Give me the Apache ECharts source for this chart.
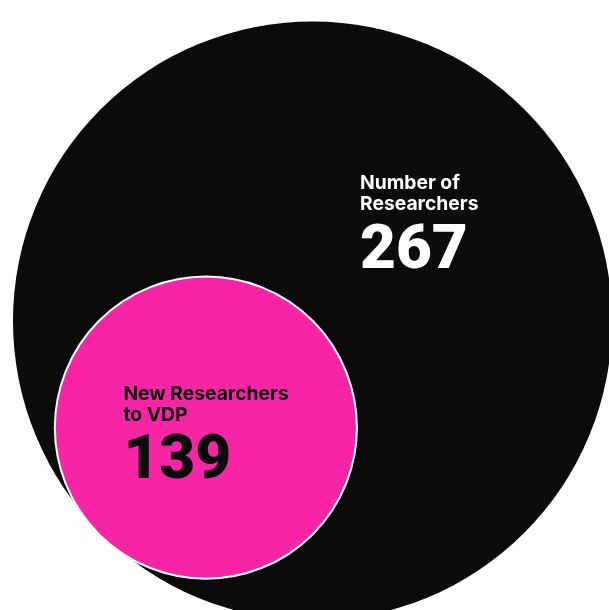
<!DOCTYPE html>
<html><head><meta charset="utf-8">
<script src="https://cdn.jsdelivr.net/npm/echarts@6/dist/echarts.min.js"></script>
<style>html,body{margin:0;padding:0;background:#fff}#c{width:609px;height:610px}</style>
</head><body><div id="c"></div>
<script>
// ---- data ----
const categories = ['Number of\nResearchers', 'New Researchers\nto VDP'];
const values = [267, 139];

// ---- styles / layout ----
const fillColors = ['#0b0b0b', '#f824a6'];
const textColors = ['#ffffff', '#0b0b0b'];
const W = 609, H = 610;
const bigCenter = [312.5, 321];
// radius scale (px) driven by the value
function radius(v) { return 1.16 * v - 10.2; }
const labelOffsets = [[47.5, -148], [-81.5, -43]];

const R0 = radius(values[0]);
const r1 = radius(values[1]);
const d = R0 - r1 + 2.3;
const centers = [
  bigCenter,
  [bigCenter[0] - d * Math.SQRT1_2, bigCenter[1] + d * Math.SQRT1_2]
];

const data = values.map((v, i) => {
  const size = 2 * radius(v);
  return {
    name: categories[i],
    value: [centers[i][0], centers[i][1], v],
    symbolSize: size,
    itemStyle: {
      color: fillColors[i],
      opacity: 1,
      borderColor: i === 0 ? 'transparent' : '#ffffff',
      borderWidth: i === 0 ? 0 : 2
    },
    label: {
      show: true,
      position: [size / 2 + labelOffsets[i][0], size / 2 + labelOffsets[i][1]],
      align: 'left',
      verticalAlign: 'top',
      formatter: function (p) {
        return p.name.split('\n').map(s => '{n|' + s + '}').join('\n') + '\n{v|' + p.value[2] + '}';
      },
      rich: {
        n: { fontFamily: 'Inter', fontWeight: 700, fontSize: 19.3, lineHeight: 21, color: textColors[i] },
        v: { fontFamily: 'Roboto', fontWeight: 900, fontSize: 62, lineHeight: 74, color: textColors[i] }
      }
    }
  };
});

const chart = echarts.init(document.getElementById('c'), null, { renderer: 'canvas' });
chart.setOption({
  backgroundColor: '#ffffff',
  animation: false,
  grid: { left: 0, right: 0, top: 0, bottom: 0 },
  xAxis: { type: 'value', min: 0, max: W, show: false },
  yAxis: { type: 'value', min: 0, max: H, inverse: true, show: false },
  series: [{
    type: 'scatter',
    symbol: 'circle',
    data: data,
    silent: true
  }]
});
</script>
</body></html>
